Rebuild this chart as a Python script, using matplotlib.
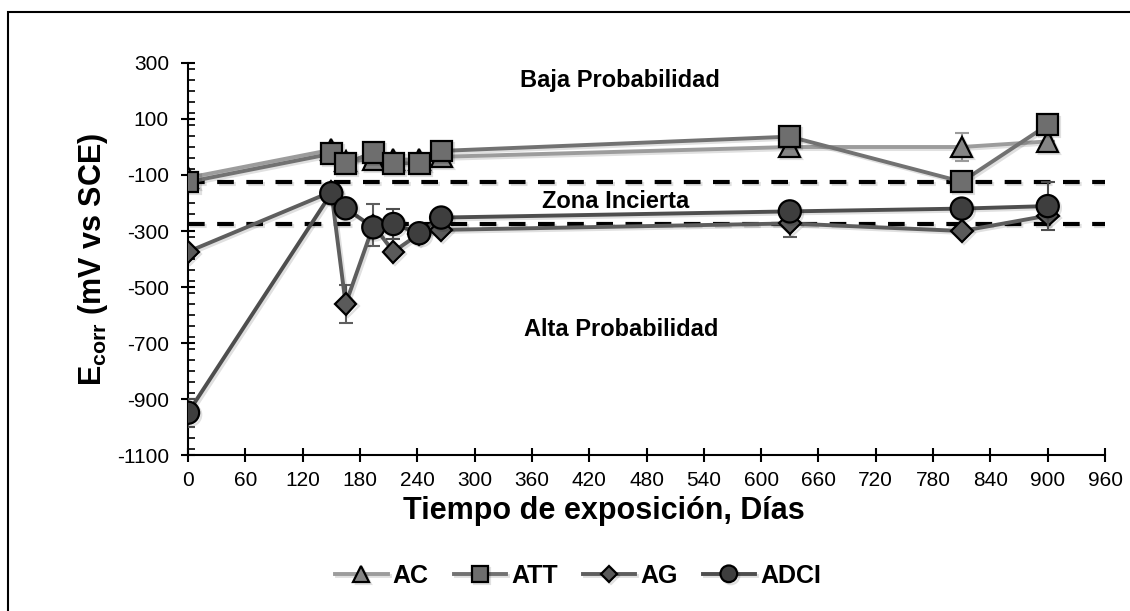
import matplotlib
matplotlib.use("Agg")
import matplotlib.pyplot as plt
import matplotlib.patheffects as pe
from matplotlib.ticker import MultipleLocator, FixedLocator
from matplotlib.patches import Rectangle

plt.rcParams['font.family'] = ['Liberation Sans', 'DejaVu Sans']
plt.rcParams['mathtext.fontset'] = 'custom'
plt.rcParams['mathtext.rm'] = 'Liberation Sans:bold'
plt.rcParams['mathtext.bf'] = 'Liberation Sans:bold'
plt.rcParams['mathtext.it'] = 'Liberation Sans:bold'
plt.rcParams['axes.unicode_minus'] = False

# tiempo de exposicion (dias)
dias = [0, 150, 165, 194, 215, 242, 265, 630, 810, 900]

# potenciales de corrosion (mV vs SCE)
ac = [-110, -10, -50, -45, -45, -45, -35, 0, 0, 20]
att = [-125, -24, -58, -20, -58, -58, -14, 37, -124, 79]
ag = [-374, -160, -561, -280, -374, -310, -296, -273, -300, -245]
adci = [-949, -165, -219, -287, -275, -308, -252, -230, -220, -211]

err_ac = [0, 0, 0, 0, 0, 0, 0, 0, 50, 0]
err_att = [0, 0, 0, 0, 0, 0, 0, 0, 0, 0]
err_ag = [0, 0, 68, 75, 0, 0, 0, 48, 0, 0]
err_adci = [50, 0, 0, 0, 55, 0, 0, 0, 0, 87]

umbral_bajo = -126
umbral_alto = -276

yticks = [-1100, -900, -700, -500, -300, -100, 100, 300]

fig = plt.figure(figsize=(11.3, 6.11), dpi=100)
ax = fig.add_axes([0.1664, 0.2553, 0.8115, 0.6416])

sombra = [pe.SimpleLineShadow(offset=(1.5, -1.5), shadow_color='black', alpha=0.12), pe.Normal()]

ax.axhline(umbral_bajo, color='black', lw=3, dashes=(4, 3), zorder=2, path_effects=sombra)
ax.axhline(umbral_alto, color='black', lw=3, dashes=(4, 3), zorder=2, path_effects=sombra)

series = [
    ('AC', ac, err_ac, '^', 15, '#9c9c9c', '#858585'),
    ('ATT', att, err_att, 's', 15, '#727272', '#6e6e6e'),
    ('AG', ag, err_ag, 'D', 11, '#5e5e5e', '#5a5a5a'),
    ('ADCI', adci, err_adci, 'o', 16, '#4e4e4e', '#3e3e3e'),
]

for i, (nombre, vals, err, mk, ms, lc, fc) in enumerate(series):
    ax.errorbar(dias, vals, yerr=err, fmt='none', ecolor=lc, elinewidth=1.5,
                capsize=5, capthick=1.5, zorder=3 + i)
    ax.plot(dias, vals, color=lc, lw=2.8, marker=mk, ms=ms, mfc=fc, mec='black',
            mew=1.6, label=nombre, zorder=4 + i, path_effects=sombra)

ax.set_xlim(0, 960)
ax.set_ylim(-1100, 300)
ax.xaxis.set_major_locator(MultipleLocator(60))
ax.yaxis.set_major_locator(FixedLocator(yticks))
ax.yaxis.set_minor_locator(MultipleLocator(40))

for s in ['top', 'right']:
    ax.spines[s].set_visible(False)
for s in ['left', 'bottom']:
    ax.spines[s].set_linewidth(1.5)

ax.tick_params(axis='both', which='major', direction='inout', length=9.5, width=1.5,
               labelsize=15)
ax.tick_params(axis='y', which='major', pad=9)
ax.tick_params(axis='x', which='major', pad=7)
ax.tick_params(axis='y', which='minor', direction='in', length=5, width=1.2)

ax.set_xlabel('Tiempo de exposición, Días', fontsize=22, fontweight='bold')
ax.xaxis.set_label_coords(0.4537, -0.105)
ax.set_ylabel(r'$\mathregular{E_{corr}}$ (mV vs SCE)', fontsize=22, fontweight='bold',
              labelpad=5)

ax.text(452, 239, 'Baja Probabilidad', ha='center', va='center', fontsize=17,
        fontweight='bold')
ax.text(448, -196, 'Zona Incierta', ha='center', va='center', fontsize=17,
        fontweight='bold')
ax.text(453, -650, 'Alta Probabilidad', ha='center', va='center', fontsize=17,
        fontweight='bold')

ax.legend(loc='center', bbox_to_anchor=(0.5115, 0.058), bbox_transform=fig.transFigure,
          ncol=4, frameon=False, prop={'weight': 'bold', 'size': 18},
          handlelength=2.1, handletextpad=0.2, columnspacing=1.0, markerscale=0.75)

fig.patches.append(Rectangle((8 / 1130, -0.01), 1.1, 1 - 12 / 611 + 0.01,
                             transform=fig.transFigure, fill=False, ec='black', lw=1.5))

fig.savefig('out.png', dpi=100)
